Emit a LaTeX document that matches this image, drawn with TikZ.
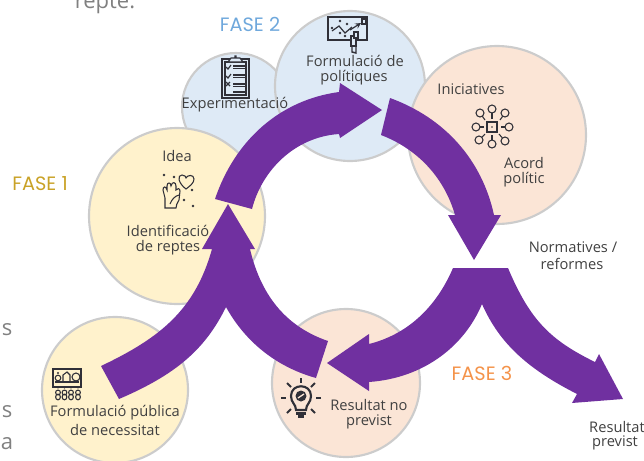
\documentclass[tikz,border=0pt]{standalone}
\usepackage{fontspec}
\usetikzlibrary{calc}
\setmainfont{Open Sans}
\newfontfamily\fasefont{Poppins}
\definecolor{arrowpurple}{HTML}{7030A0}
\definecolor{ringgray}{HTML}{CCCCCC}
\definecolor{fillyellow}{HTML}{FFF2CC}
\definecolor{fillblue}{HTML}{DEEAF6}
\definecolor{fillpeach}{HTML}{FBE5D6}
\definecolor{txt}{HTML}{404040}
\definecolor{icon}{HTML}{303038}
\definecolor{faseone}{HTML}{C9A227}
\definecolor{fasetwo}{HTML}{6FA8DC}
\definecolor{fasethree}{HTML}{F4934A}
\tikzset{
  ring/.style={circle,draw=ringgray,line width=1.6pt,inner sep=0pt,minimum size=#1*0.75pt},
  lbl/.style={font=\fontsize{11}{13}\selectfont,text=txt,inner sep=0pt,align=center},
  fase/.style={font=\fontsize{14.5}{16}\selectfont\fasefont,inner sep=0pt},
  stray/.style={font=\fontsize{16.5}{19}\selectfont,text=gray,inner sep=0pt},
  band/.style={fill=arrowpurple,draw=none},
  ico/.style={draw=icon,line width=0.9pt,fill=none},
  icof/.style={fill=icon,draw=none}
}
\begin{document}
\begin{tikzpicture}[x=0.75pt,y=-0.75pt]
\useasboundingbox (0,0) rectangle (644,461);
\clip (0,0) rectangle (644,461);
% circles
\node[ring=108,fill=fillblue] (cexp) at (236,107) {};
\node[ring=150,fill=fillblue] (cform) at (350,86) {};
\node[ring=178,fill=fillpeach] (cini) at (497,135) {};
\node[ring=176,fill=fillyellow] (cidea) at (177,216) {};
\node[ring=146,fill=fillyellow] (cpub) at (115,390) {};
\node[ring=148,fill=fillpeach] (cres) at (346,383) {};
% texts
\node[stray] (t0) at (105,4) {repte.};
\node[stray] (s1) at (7,330) {s};
\node[stray] (s2) at (7,412) {s};
\node[stray] (s3) at (7,444) {a};
\node[lbl] (l1) at (235,105) {Experimentació};
\node[lbl] (l2) at (177,156) {Idea};
\node[lbl] (l3) at (168,231) {Identificació};
\node[lbl] (l4) at (168,248) {de reptes};
\node[lbl] (l5) at (355,61) {Formulació de};
\node[lbl] (l6) at (354,78) {polítiques};
\node[lbl] (l7) at (471,89) {Iniciatives};
\node[lbl] (l8) at (524,163) {Acord};
\node[lbl] (l9) at (524,180) {polític};
\node[lbl] (l10) at (573,247) {Normatives /};
\node[lbl] (l11) at (572,264) {reformes};
\node[lbl] (l12) at (369,405) {Resultat no};
\node[lbl] (l13) at (369,422) {previst};
\node[lbl] (l14) at (617,427) {Resultat};
\node[lbl] (l15) at (615,443) {previst};
\node[lbl] (l16) at (115,413) {Formulació pública};
\node[lbl] (l17) at (115,430) {de necessitat};
\node[fase,text=fasetwo] (f2) at (250,24) {FASE 2};
\node[fase,text=faseone] (f1) at (40,184) {FASE 1};
\node[fase,text=fasethree] (f3) at (482,373) {FASE 3};
% arrows
\fill[band] (101,366) .. controls (160,338) and (195,310) .. (212,249) -- (202,249) -- (228,204) -- (255,249) -- (250,249)
  .. controls (262,300) and (290,328) .. (328,341) -- (316,378)
  .. controls (280,368) and (247,345) .. (226,307)
  .. controls (205,350) and (175,375) .. (119,399) -- cycle;
\fill[band] (215,199) .. controls (235,140) and (280,100) .. (339,92) -- (340,83) -- (382,110) -- (340,138) -- (339,134)
  .. controls (295,137) and (262,170) .. (252,209) -- cycle;
\fill[band] (390,98) .. controls (445,118) and (482,160) .. (494,215) -- (501,215) -- (474,260) -- (448,215) -- (455,215)
  .. controls (445,180) and (420,150) .. (381,135) -- cycle;
\fill[band] (453,268) .. controls (435,310) and (405,335) .. (369,344) -- (369,334) -- (327,363) -- (369,391) -- (369,382)
  .. controls (425,378) and (465,345) .. (482,304)
  .. controls (500,345) and (530,370) .. (577,394) -- (572,403) -- (623,399) -- (599,354) -- (595,362)
  .. controls (550,340) and (530,320) .. (508,268) -- cycle;
% icon: clipboard
\draw[ico,line width=1.3pt,fill=fillblue] (222,59) rectangle (249,98);
\draw[ico] (225,62) rectangle (246,95);
\draw[ico,fill=fillblue] (228,62) -- (231,58) -- (235,58) -- (235,56) -- (236,56) -- (236,58) -- (240,58) -- (243,62) -- cycle;
\foreach \yy in {66,75,84,92}{\draw[ico,line width=1pt] (233,\yy) -- (245,\yy);\draw[ico,line width=1pt] (233,\yy+2.5) -- (245,\yy+2.5);}
\draw[ico] (226,67) -- (228,69) -- (231,65);
\draw[ico] (226,76) -- (228,78) -- (231,74);
\draw[ico] (226,82) -- (230,86) (230,82) -- (226,86);
% icon: hand and heart
\draw[ico,line width=0.8pt] (165,208) -- (165,198) -- (163,190) .. controls (163,186) and (166,186) .. (167,190)
  -- (167,186) .. controls (167,182) and (171,182) .. (171,186) .. controls (172,181) and (176,182) .. (176,186)
  -- (176,190) .. controls (177,188) and (180,188) .. (180,191) -- (179,200) .. controls (177,204) and (176,205) .. (176,208) -- cycle;
\draw[ico,line width=0.8pt] (170,204) .. controls (172,199) and (175,196) .. (179,195);
\draw[ico,line width=0.8pt] (186,189) .. controls (178,183) and (177,175) .. (182,175) .. controls (185,175) and (186,177) .. (186,178)
  .. controls (187,175) and (194,174) .. (194,179) .. controls (194,183) and (190,186) .. (186,189) -- cycle;
\foreach \p in {(164,175),(174,177),(192,190),(184,200),(193,206)}{\fill[icon] \p circle (1.4);}
% icon: chart board
\draw[ico,line width=1.2pt] (328,17) rectangle (367,40);
\draw[ico] (332,31) -- (339,26) -- (345,33) -- (352,27);
\foreach \p in {(332,28),(340,21),(347,24),(340,33),(345,36)}{\fill[icon] \p circle (1.4);}
\draw[ico,->,>=stealth] (350,30) -- (361,23);
\draw[ico,fill=fillblue] (362,19) rectangle (366,24);
\draw[ico,line width=1.1pt,fill=fillblue] (351,36) rectangle (356,46);
\draw[ico,fill=fillblue] (354,32) rectangle (358,38);
\draw[ico,line width=1.1pt] (352,46) -- (352,52) -- (356,53) -- (356,46);
% icon: network
\draw[ico,line width=0.8pt] (487,122) rectangle (497,132);
\fill[icon] (492,127) circle (0.9);
\foreach \cx/\cy/\lx/\ly in {480/113/485/120,492/109/492/119,505/113/500/120,476/127/484/127,509/127/501/127,479/140/485/134,492/144/492/135,505/141/499/134}{
  \draw[ico,line width=0.8pt] (\cx,\cy) circle (4);
  \draw[ico,line width=0.8pt] (\lx,\ly) -- ($(\cx,\cy)!3pt!(\lx,\ly)$);
}
% icon: panel
\draw[ico,line width=1.1pt] (53,369) rectangle (81,387);
\draw[ico,line width=0.8pt] (55,382) -- (79,382);
\draw[ico,line width=0.8pt] (63,382) -- (63,375) -- (67,372) -- (70,375) -- (70,382);
\draw[ico,line width=0.8pt] (76,377) circle (4);
\draw[ico,line width=0.8pt] (58,378) circle (2.8);
\fill[icon] (58,373) circle (1.2);
\foreach \xx in {58,64.5,71,78}{
  \fill[icon] (\xx,387.5) circle (1);
  \draw[ico,line width=0.8pt] (\xx,392.5) circle (2.4);
  \draw[ico,line width=0.8pt] (\xx,397) ellipse (2.4 and 2.8);
}
% icon: bulb
\draw[ico,line width=1.6pt] (296,410) .. controls (296,404) and (291,403) .. (291,396) .. controls (291,383) and (311,383) .. (311,396) .. controls (311,403) and (306,404) .. (306,410) -- cycle;
\fill[icon] (301,396) circle (5.5);
\draw[fillpeach,line width=1pt] (298,398) -- (304,394);
\fill[icon] (296,411.5) rectangle (306,415);
\fill[icon] (298,415) rectangle (304,417.5);
\draw[icon,line width=1.5pt] (301,378) -- (301,383);
\draw[icon,line width=1.5pt] (287,383) -- (291,387);
\draw[icon,line width=1.5pt] (315,383) -- (311,387);
\draw[icon,line width=1.5pt] (281,398) -- (286,398);
\draw[icon,line width=1.5pt] (321,398) -- (316,398);
\draw[icon,line width=1.5pt] (287,413) -- (291,409);
\draw[icon,line width=1.5pt] (315,413) -- (311,409);
\end{tikzpicture}
\end{document}
